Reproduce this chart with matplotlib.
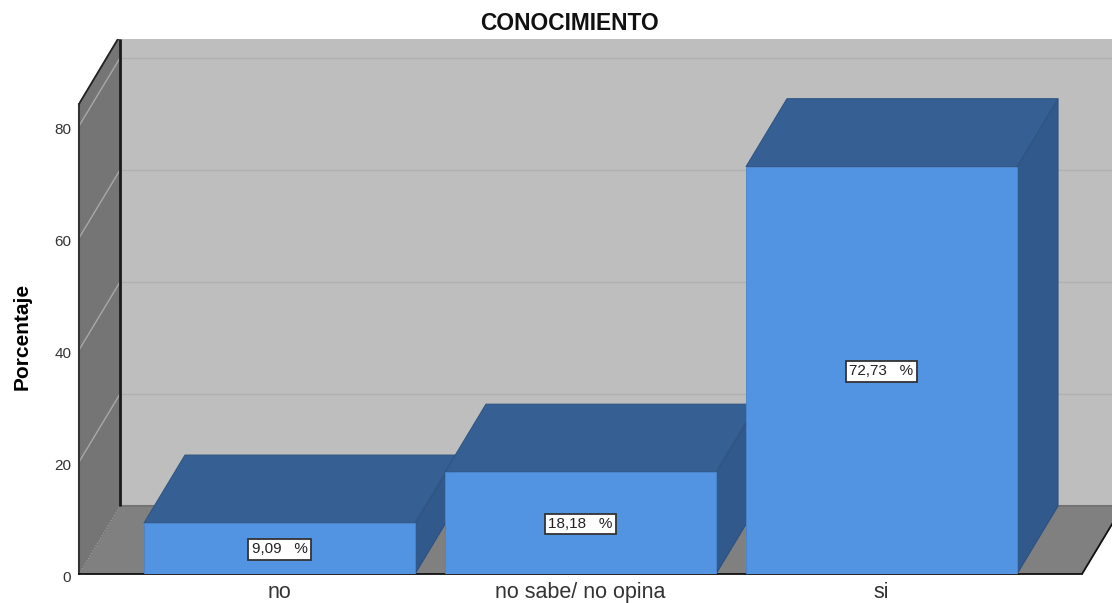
import matplotlib
matplotlib.use('Agg')
import matplotlib.pyplot as plt
from matplotlib.patches import Polygon
from matplotlib.transforms import ScaledTranslation

categorias = ['no', 'no sabe/ no opina', 'si']
porcentajes = [9.09, 18.18, 72.73]
etiquetas = ['9,09   %', '18,18   %', '72,73   %']
ticks_y = [0, 20, 40, 60, 80]

plt.rcParams['font.family'] = ['Liberation Sans', 'DejaVu Sans']

W, H = 1112, 603
izq, der, arriba, abajo = 79, 1112, 39, 574
px_x = 301.0   # pixeles entre categorias
px_y = 5.6     # pixeles por punto porcentual
ancho = 271 / px_x
dx = 41 / px_x     # profundidad
dy = 68 / px_y

fig = plt.figure(figsize=(W / 100, H / 100), dpi=100)
ax = fig.add_axes([izq / W, 1 - abajo / H, (der - izq) / W, (abajo - arriba) / H])
ax.set_xlim((izq - 279.5) / px_x, (der - 279.5) / px_x)
ax.set_ylim(0, (abajo - arriba) / px_y)
ax.set_facecolor('white')
for s in ax.spines.values():
    s.set_visible(False)

x0, x1 = ax.get_xlim()
ymax = ax.get_ylim()[1]
xfin = x1 - 30 / px_x       # esquina derecha del piso
ypared = (abajo - 104) / px_y  # arriba de la pared izquierda


def poli(puntos, color, borde=None, lw=0.8, z=1):
    ax.add_patch(Polygon(puntos, closed=True, facecolor=color,
                         edgecolor=borde if borde else color, linewidth=lw, zorder=z))


# pared del fondo, piso y pared izquierda
poli([(x0 + dx, dy), (x1 + 1, dy), (x1 + 1, ymax), (x0 + dx, ymax)], '#bebebe', z=1)
poli([(x0, 0), (x0 + dx, dy), (xfin + dx, dy), (xfin, 0)], '#808080', z=1)
ax.plot([x0 + dx, x1], [dy, dy], color='#737373', lw=1.5, zorder=1.2)
poli([(x0, 0), (x0 + dx, dy), (x0 + dx, ymax), (x0 + 0.95 * dx, ymax), (x0, ypared)], '#757575', z=1.1)

for t in ticks_y[1:]:
    ax.plot([x0, x0 + dx], [t, t + dy], color='#a8a8a8', lw=1, zorder=1.3)
    ax.plot([x0 + dx, x1], [t + dy, t + dy], color='#b0b0b0', lw=1, zorder=1.2)
ax.plot([x0, x0 + dx], [0, dy], color='#a0a0a0', lw=0.8, ls=':', zorder=1.3)

# bordes oscuros
ax.plot([x0 + dx, x0 + dx], [dy, ymax], color='#1a1a1a', lw=2, zorder=1.4, solid_capstyle='butt')
ax.plot([x0, x0], [0, ypared], color='#333333', lw=1.5, zorder=1.4, clip_on=False)
ax.plot([x0, x0 + 0.95 * dx], [ypared, ymax], color='#222222', lw=1.3, zorder=1.4)
ax.plot([x0, xfin], [0, 0], color='#111111', lw=1.3, zorder=1.5, clip_on=False)
ax.plot([xfin, xfin + dx], [0, dy], color='#111111', lw=1.3, zorder=1.5)

# barras de izquierda a derecha
for i in range(len(categorias)):
    v = porcentajes[i]
    a = i - ancho / 2
    b = i + ancho / 2
    z = 2 + i
    poli([(b, 0), (b + dx, dy), (b + dx, v + dy), (b, v)], '#31598c', '#2c5080', z=z)
    poli([(a, v), (a + dx, v + dy), (b + dx, v + dy), (b, v)], '#366093', '#2f5583', z=z)
    poli([(a, 0), (b, 0), (b, v), (a, v)], '#5294e2', '#4a85cc', lw=0.6, z=z + 0.1)
    ax.text(i, v / 2 - 0.15, etiquetas[i], ha='center', va='center', fontsize=11, color='#222222', zorder=z + 0.2,
            bbox=dict(boxstyle='square,pad=0.22', facecolor='white', edgecolor='#333333', linewidth=1.3))

ax.set_yticks(ticks_y)
ax.set_yticklabels([str(t) for t in ticks_y], fontsize=11, color='#333333')
ax.set_xticks(range(len(categorias)))
ax.set_xticklabels(categorias, fontsize=15.5, color='#333333')
ax.tick_params(axis='y', length=0, pad=5.5)
ax.tick_params(axis='x', length=0, pad=5.5)
baja = ScaledTranslation(0, -3 / 100, fig.dpi_scale_trans)
for lab in ax.get_yticklabels():
    lab.set_transform(lab.get_transform() + baja)

ax.set_ylabel('Porcentaje', fontsize=15, fontweight='bold', labelpad=0)
ax.yaxis.set_label_coords((32 - izq) / (der - izq), (abajo - 336) / (abajo - arriba))
fig.text(569.5 / W, 1 - 24 / H, 'CONOCIMIENTO', ha='center', va='center', fontsize=16.4, fontweight='bold', color='#111111')

fig.savefig('out.png', dpi=100)
